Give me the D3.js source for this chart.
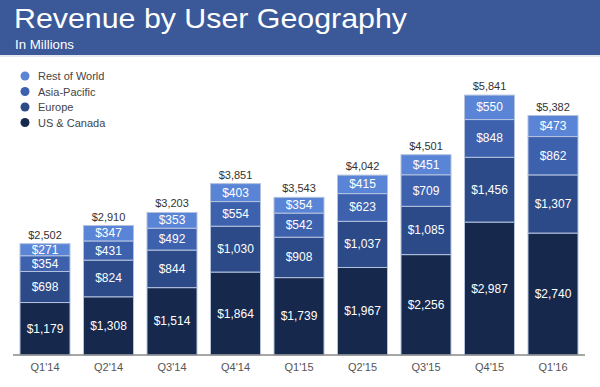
<!DOCTYPE html>
<html>
<head>
<meta charset="utf-8">
<script src="https://cdn.jsdelivr.net/npm/d3@7"></script>
<style>
  body { margin: 0; background: #fff; }
  svg { display: block; font-family: "Liberation Sans", Arial, sans-serif; }
</style>
</head>
<body>
<div id="chart"></div>
<script>
// quarterly revenue, $M
var quarters = ["Q1'14", "Q2'14", "Q3'14", "Q4'14", "Q1'15", "Q2'15", "Q3'15", "Q4'15", "Q1'16"];
var usCanada = [1179, 1308, 1514, 1864, 1739, 1967, 2256, 2987, 2740];
var europe = [698, 824, 844, 1030, 908, 1037, 1085, 1456, 1307];
var asiaPacific = [354, 431, 492, 554, 542, 623, 709, 848, 862];
var restOfWorld = [271, 347, 353, 403, 354, 415, 451, 550, 473];
var totals = [2502, 2910, 3203, 3851, 3543, 4042, 4501, 5841, 5382];

var seriesNames = ["US & Canada", "Europe", "Asia-Pacific", "Rest of World"];
var seriesColors = ["#17284d", "#2b4a87", "#3e61ae", "#5a85d6"];

var width = 600, height = 387;
var svg = d3.select("#chart").append("svg")
  .attr("width", width)
  .attr("height", height);

// header band
svg.append("rect").attr("x", 0).attr("y", 0).attr("width", width).attr("height", 55)
  .attr("fill", "#3b5998");
svg.append("rect").attr("x", 0).attr("y", 55).attr("width", width).attr("height", 2)
  .attr("fill", "#e4e8f0");
svg.append("text").attr("x", 14).attr("y", 28)
  .attr("fill", "#fff").attr("font-size", 28)
  .attr("textLength", 393).attr("lengthAdjust", "spacingAndGlyphs")
  .text("Revenue by User Geography");
svg.append("text").attr("x", 15).attr("y", 48.5)
  .attr("fill", "#fff").attr("font-size", 12.5)
  .attr("textLength", 59).attr("lengthAdjust", "spacingAndGlyphs")
  .text("In Millions");

var table = quarters.map(function(q, i) {
  return {q: q, "US & Canada": usCanada[i], "Europe": europe[i],
          "Asia-Pacific": asiaPacific[i], "Rest of World": restOfWorld[i], total: totals[i]};
});
var stacked = d3.stack().keys(seriesNames)(table);

var x = d3.scaleBand().domain(quarters).range([20, 578]).paddingInner(0.2126).paddingOuter(0);
var y = d3.scaleLinear().domain([0, 6000]).range([355, 88]);
var color = d3.scaleOrdinal().domain(seriesNames).range(seriesColors);

var fmt = d3.format(",");

var layers = svg.selectAll("g.layer").data(stacked).enter().append("g")
  .attr("class", "layer")
  .attr("fill", function(d) { return color(d.key); });

layers.selectAll("rect").data(function(d) { return d; }).enter().append("rect")
  .attr("x", function(d) { return x(d.data.q); })
  .attr("y", function(d) { return y(d[1]); })
  .attr("width", x.bandwidth())
  .attr("height", function(d) { return y(d[0]) - y(d[1]); })
  .attr("stroke", "#b4c2de")
  .attr("stroke-width", 1);

layers.selectAll("text").data(function(d) { return d; }).enter().append("text")
  .attr("x", function(d) { return x(d.data.q) + x.bandwidth() / 2; })
  .attr("y", function(d) { return (y(d[0]) + y(d[1])) / 2 + 4; })
  .attr("text-anchor", "middle")
  .attr("fill", "#fff")
  .attr("font-size", 12)
  .text(function(d) { return "$" + fmt(d[1] - d[0]); });

// totals on top
svg.selectAll("text.total").data(table).enter().append("text")
  .attr("class", "total")
  .attr("x", function(d) { return x(d.q) + x.bandwidth() / 2; })
  .attr("y", function(d) { return y(d.total) - 5; })
  .attr("text-anchor", "middle")
  .attr("fill", "#333")
  .attr("font-size", 11)
  .text(function(d) { return "$" + fmt(d.total); });

// x axis
var xAxis = svg.append("g").attr("transform", "translate(0,355)")
  .call(d3.axisBottom(x).tickSize(0).tickPadding(8));
xAxis.select(".domain").attr("stroke", "#888").attr("stroke-width", 1.5).attr("d", "M13,0H585");
xAxis.selectAll("text").attr("font-size", 11).attr("fill", "#555")
  .attr("font-family", "Liberation Sans, Arial, sans-serif");

// legend, top series first
var legend = svg.selectAll("g.legend").data(seriesNames.slice().reverse()).enter().append("g")
  .attr("class", "legend")
  .attr("transform", function(d, i) { return "translate(25," + (76 + i * 15.5) + ")"; });
legend.append("circle").attr("r", 4.5).attr("fill", function(d) { return color(d); });
legend.append("text").attr("x", 13).attr("y", 4)
  .attr("font-size", 11).attr("fill", "#444")
  .text(function(d) { return d; });
</script>
</body>
</html>
